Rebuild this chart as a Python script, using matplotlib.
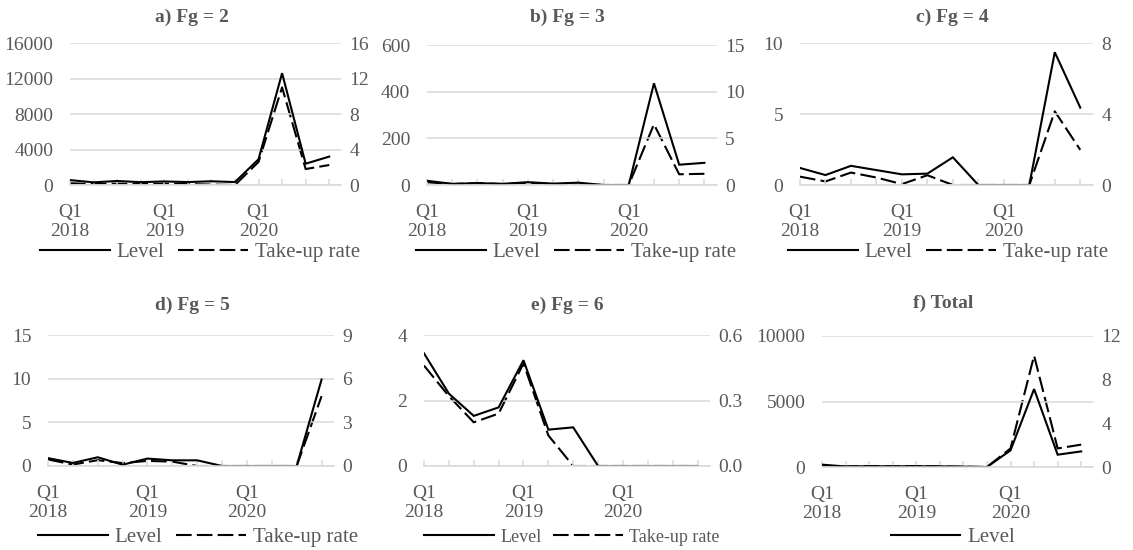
import matplotlib
matplotlib.use("Agg")
import matplotlib.pyplot as plt
from matplotlib.lines import Line2D

plt.rcParams["font.family"] = ["Liberation Serif", "DejaVu Serif"]

quarters = ["Q1\n2018", "", "", "", "Q1\n2019", "", "", "", "Q1\n2020", "", "", ""]

level_a = [550, 300, 450, 320, 400, 330, 420, 330, 2900, 12600, 2400, 3200]
rate_a = [0.2, 0.1, 0.15, 0.1, 0.15, 0.1, 0.05, 0.0, 2.6, 11.0, 1.8, 2.25]

level_b = [18, 5, 8, 5, 12, 6, 10, 0, 0, 436, 87, 95]
rate_b = [0.3, 0.1, 0.2, 0.1, 0.25, 0.1, 0.05, 0.0, 0.0, 6.5, 1.15, 1.2]

level_c = [1.2, 0.7, 1.35, 1.05, 0.75, 0.8, 1.95, 0, 0, 0, 9.35, 5.45]
rate_c = [0.47, 0.2, 0.7, 0.42, 0.05, 0.55, 0.0, 0, 0, 0, 4.15, 1.98]

level_d = [0.9, 0.35, 1.0, 0.15, 0.85, 0.65, 0.65, 0, 0, 0, 0, 9.9]
rate_d = [0.45, 0.1, 0.4, 0.2, 0.35, 0.3, 0.0, 0, 0, 0, 0, 4.8]

level_e = [3.44, 2.21, 1.53, 1.79, 3.23, 1.11, 1.18, 0, 0, 0, 0, 0]
rate_e = [0.46, 0.32, 0.2, 0.24, 0.47, 0.14, 0, 0, 0, 0, 0, 0]

level_f = [180, 40, 60, 50, 60, 50, 30, 0, 1270, 5950, 940, 1190]
rate_f = [0.1, 0.05, 0.08, 0.06, 0.08, 0.05, 0.02, 0.0, 1.7, 10.2, 1.7, 2.05]

TEXT = "#595959"
GRID = "#D9D9D9"
W, H = 1133, 550
DASH = (0, (7.5, 2.5))

# panel specs: title, data, ticks, pixel box (left, top, right, bottom), title pos, legend pos
panels = [
    dict(title="a) Fg = 2", level=level_a, rate=rate_a,
         lticks=[0, 4000, 8000, 12000, 16000], rticks=[0, 4, 8, 12, 16],
         box=(70, 43, 341, 185), tpos=(192, 17), lpos=(200, 252), rfmt="{:g}", legsize=15),
    dict(title="b) Fg = 3", level=level_b, rate=rate_b,
         lticks=[0, 200, 400, 600], rticks=[0, 5, 10, 15],
         box=(427, 45, 717, 185), tpos=(567, 17), lpos=(576, 252), rfmt="{:g}", legsize=15),
    dict(title="c) Fg = 4", level=level_c, rate=rate_c,
         lticks=[0, 5, 10], rticks=[0, 4, 8],
         box=(800, 43, 1093, 185), tpos=(952, 17), lpos=(948, 252), rfmt="{:g}", legsize=15),
    dict(title="d) Fg = 5", level=level_d, rate=rate_d,
         lticks=[0, 5, 10, 15], rticks=[0, 3, 6, 9],
         box=(48, 335, 334, 466), tpos=(192, 305), lpos=(198, 537), rfmt="{:g}", legsize=15),
    dict(title="e) Fg = 6", level=level_e, rate=rate_e,
         lticks=[0, 2, 4], rticks=[0, 0.3, 0.6],
         box=(424, 335, 710, 466), tpos=(567, 305), lpos=(572, 537), rfmt="{:.1f}", legsize=13),
    dict(title="f) Total", level=level_f, rate=rate_f,
         lticks=[0, 5000, 10000], rticks=[0, 4, 8, 12],
         box=(822, 336, 1093, 467), tpos=(943, 303), lpos=(953, 537), rfmt="{:g}", legsize=15,
         only_level=True),
]


def style_axis(ax):
    for side in ["top", "left", "right"]:
        ax.spines[side].set_visible(False)
    ax.spines["bottom"].set_color(GRID)
    ax.spines["bottom"].set_linewidth(1.1)
    ax.tick_params(axis="y", length=0, labelsize=14, labelcolor=TEXT)


fig = plt.figure(figsize=(W / 100, H / 100), dpi=100)

for p in panels:
    x0, y0, x1, y1 = p["box"]
    ax = fig.add_axes([x0 / W, 1 - y1 / H, (x1 - x0) / W, (y1 - y0) / H])
    ax2 = ax.twinx()
    style_axis(ax)
    style_axis(ax2)
    ax2.spines["bottom"].set_visible(False)

    xs = list(range(len(p["level"])))
    ax.plot(xs, p["level"], color="black", lw=1.5, solid_joinstyle="miter")
    ax2.plot(xs, p["rate"], color="black", lw=1.5, linestyle=DASH)

    ax.set_xlim(0, 11.5)
    ax.set_ylim(p["lticks"][0], p["lticks"][-1])
    ax.set_yticks(p["lticks"])
    ax.set_yticklabels([f"{t:g}" for t in p["lticks"]])
    ax.tick_params(axis="y", pad=12)
    ax2.set_ylim(p["rticks"][0], p["rticks"][-1])
    ax2.set_yticks(p["rticks"])
    ax2.set_yticklabels([p["rfmt"].format(t) for t in p["rticks"]])
    ax2.tick_params(axis="y", pad=6)

    ax.set_xticks(xs)
    ax.set_xticklabels(quarters, linespacing=1.1)
    ax.tick_params(axis="x", direction="in", length=4, width=1.1, color=GRID,
                   labelsize=14, labelcolor=TEXT, pad=14)
    ax.grid(axis="y", color=GRID, lw=1.1)
    ax.set_axisbelow(True)
    ax.set_zorder(ax2.get_zorder() + 1)
    ax.patch.set_visible(False)

    fig.text(p["tpos"][0] / W, 1 - p["tpos"][1] / H, p["title"], ha="center", va="center",
             fontsize=14, fontweight="bold", color=TEXT)

    handles = [Line2D([], [], color="black", lw=1.5)]
    labels = ["Level"]
    if not p.get("only_level"):
        handles.append(Line2D([], [], color="black", lw=1.5, linestyle=DASH))
        labels.append("Take-up rate")
    hl = 50 / p["legsize"]
    fig.legend(handles, labels, loc="center", ncol=2, frameon=False,
               bbox_to_anchor=(p["lpos"][0] / W, 1 - p["lpos"][1] / H),
               fontsize=p["legsize"], labelcolor=TEXT, handlelength=hl,
               handletextpad=0.34, columnspacing=0.67, borderaxespad=0, borderpad=0)

fig.savefig("out.png", dpi=100)
